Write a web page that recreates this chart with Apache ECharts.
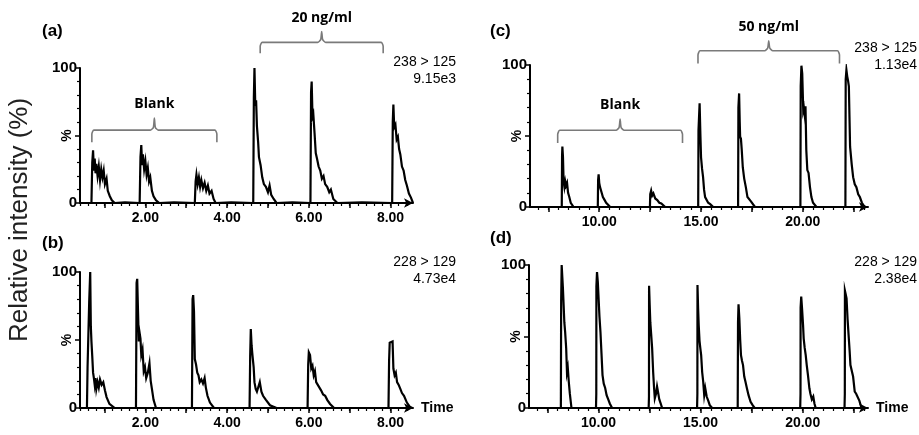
<!DOCTYPE html>
<html>
<head>
<meta charset="utf-8">
<script src="https://cdn.jsdelivr.net/npm/echarts@6/dist/echarts.min.js"></script>
<style>
html,body{margin:0;padding:0;background:#fff;}
#chart{width:919px;height:435px;}
</style>
</head>
<body>
<div id="chart"></div>
<script>
// ---------- DATA ----------
// tick labels
const xLabelsAB = [2, 4, 6, 8];
const xMajorTicksAB = [1, 2, 3, 4, 5, 6, 7, 8];
const xLabelsCD = [10, 15, 20];
const xMajorTicksCD = [7.5, 10, 12.5, 15, 17.5, 20, 22.5];
const yLabels = [0, 100];
const yMidLabel = [50];

// panel texts
const panelTags = ['(a)', '(b)', '(c)', '(d)'];
const transitions = ['238 > 125', '228 > 129', '238 > 125', '228 > 129'];
const intensities = ['9.15e3', '4.73e4', '1.13e4', '2.38e4'];

// bracket groups: [start, end] times and the text
const bracketsA = [{ text: 'Blank', span: [0.69, 3.75], level: [45, 54, 63] },
                   { text: '20 ng/ml', span: [4.81, 7.82], level: [111, 119, 127] }];
const bracketsC = [{ text: 'Blank', span: [7.96, 14.09], level: [45, 54, 62] },
                   { text: '50 ng/ml', span: [14.85, 21.8], level: [101, 110, 117] }];

// chromatogram traces [time (min), relative intensity (%)]
const traceA = [
  [0.4,0],[0.68,0],
  [0.69,0],[0.70,30],[0.72,39],[0.74,24],[0.76,33],[0.78,22],[0.80,29],[0.83,20],[0.86,27],[0.89,17],[0.92,25],[0.95,19],[0.98,24],[1.01,14],[1.05,18],[1.08,9],[1.13,5],[1.18,2],[1.25,0],
  [1.5,0.5],[1.86,0],
  [1.87,0],[1.88,34],[1.90,43],[1.92,28],[1.94,36],[1.97,25],[2.00,31],[2.03,21],[2.06,26],[2.09,16],[2.12,19],[2.16,9],[2.20,5],[2.26,2],[2.34,0],
  [2.7,0.5],[3.21,0],
  [3.22,0],[3.23,16],[3.25,21],[3.28,14],[3.31,19],[3.34,12],[3.37,17],[3.41,11],[3.45,15],[3.49,9],[3.53,13],[3.57,7],[3.62,9],[3.67,3],[3.72,0],
  [4.1,0.5],[4.64,0],
  [4.65,0],[4.655,78],[4.67,100],[4.69,72],[4.71,76],[4.73,57],[4.76,45],[4.78,34],[4.82,28],[4.86,19],[4.90,14],[4.95,12],[5.00,8],[5.04,13],[5.08,6],[5.14,3],[5.21,0],
  [5.6,0.5],[6.04,0],
  [6.05,0],[6.055,82],[6.07,90],[6.09,64],[6.11,66],[6.14,52],[6.17,37],[6.20,33],[6.24,27],[6.28,24],[6.32,18],[6.36,20],[6.40,14],[6.45,12],[6.50,8],[6.54,10],[6.60,3],[6.70,0],
  [7.3,0.5],[8.04,0],
  [8.05,0],[8.055,60],[8.07,73],[8.09,56],[8.12,58],[8.15,47],[8.18,49],[8.21,40],[8.24,36],[8.28,27],[8.32,24],[8.36,17],[8.40,13],[8.45,7],[8.50,4],[8.55,0]
];
const traceB = [
  [0.4,0],[0.57,0],
  [0.58,0],[0.585,30],[0.62,30],[0.625,78],[0.65,100],[0.665,60],[0.68,49],[0.70,38],[0.72,26],[0.74,22],[0.76,17],[0.78,22],[0.80,14],[0.83,19],[0.86,15],[0.89,21],[0.93,17],[0.97,19],[1.01,13],[1.05,8],[1.12,3],[1.25,0],
  [1.5,0],[1.77,0],
  [1.78,0],[1.785,92],[1.80,95],[1.82,71],[1.84,49],[1.86,55],[1.88,51],[1.90,39],[1.93,43],[1.96,27],[1.99,30],[2.02,22],[2.06,26],[2.10,33],[2.13,20],[2.16,14],[2.20,6],[2.26,0],
  [2.8,0],[3.14,0],
  [3.15,0],[3.155,80],[3.17,83],[3.19,71],[3.21,36],[3.24,32],[3.27,26],[3.30,24],[3.33,19],[3.37,21],[3.41,18],[3.45,22],[3.48,15],[3.52,9],[3.58,4],[3.68,0],
  [4.2,0],[4.55,0],
  [4.56,0],[4.565,38],[4.58,58],[4.60,46],[4.62,39],[4.65,30],[4.67,19],[4.70,14],[4.73,12],[4.77,16],[4.80,19],[4.84,12],[4.88,9],[4.95,6],[5.05,2],[5.21,0],
  [5.6,0],[5.97,0],
  [5.98,0],[5.985,32],[6.00,41],[6.03,39],[6.06,29],[6.09,31],[6.12,24],[6.15,27],[6.18,19],[6.22,17],[6.26,15],[6.30,13],[6.35,10],[6.40,9],[6.45,6],[6.52,3],[6.62,0],
  [7.4,0],[7.95,0],
  [7.96,0],[7.965,35],[7.98,48],[8.02,47],[8.05,49],[8.07,29],[8.10,24],[8.13,26],[8.16,19],[8.20,17],[8.24,14],[8.28,11],[8.33,9],[8.40,4],[8.47,1],[8.53,0]
];
const traceC = [
  [6.6,0],[8.16,0],
  [8.17,0],[8.175,36],[8.19,42.5],[8.22,35],[8.25,18],[8.29,14],[8.33,18],[8.37,15],[8.42,17],[8.47,10],[8.53,7],[8.60,3],[8.74,0],
  [9.3,0],[9.93,0],
  [9.94,0],[9.945,19],[9.97,23],[10.0,17],[10.04,14],[10.08,15],[10.12,10],[10.18,7],[10.26,5],[10.34,3],[10.54,0],
  [11.8,0],[12.49,0],
  [12.5,0],[12.505,9],[12.55,11.5],[12.6,8],[12.66,9.6],[12.75,6],[12.85,4.9],[12.95,3],[13.05,2.5],[13.24,0],
  [14,0],[14.86,0],
  [14.87,0],[14.875,54],[14.93,73],[14.97,50],[15.0,35],[15.05,27],[15.1,21],[15.15,12],[15.2,7],[15.28,6],[15.35,3],[15.45,2],[15.6,0],
  [16.2,0],[16.82,0],
  [16.83,0],[16.835,70],[16.87,80],[16.9,60],[16.92,49.5],[16.96,48],[17.0,40],[17.05,28],[17.12,20],[17.2,14],[17.28,7],[17.36,6],[17.45,4],[17.65,0],
  [19,0],[19.88,0],
  [19.89,0],[19.895,85],[19.93,99.5],[19.97,94],[20.02,68],[20.05,70],[20.09,65],[20.13,71],[20.17,40],[20.22,26],[20.28,24],[20.35,14],[20.42,7],[20.5,3],[20.67,0],
  [21.5,0],[22.09,0],
  [22.1,0],[22.105,90],[22.14,96.5],[22.18,92],[22.22,89],[22.26,85],[22.32,42.5],[22.4,30],[22.47,21],[22.55,16],[22.63,14],[22.72,9],[22.8,7],[22.9,3],[23.04,0],
  [23.2,0]
];
const traceD = [
  [6.6,0],[8.16,0],
  [8.17,0],[8.175,75],[8.2,100],[8.23,92],[8.26,84],[8.29,74],[8.33,60],[8.37,53],[8.42,42],[8.46,25],[8.5,28],[8.55,18],[8.6,10],[8.68,0],
  [9.3,0],[9.88,0],
  [9.89,0],[9.895,10],[9.9,85],[9.93,95],[9.97,88],[10.0,79],[10.05,64],[10.1,53],[10.15,38],[10.2,23],[10.26,17],[10.33,14],[10.4,9],[10.48,6],[10.56,3],[10.67,0],
  [11.8,0],[12.46,0],
  [12.47,0],[12.475,8],[12.48,85.5],[12.51,72],[12.54,60],[12.58,52],[12.63,41.7],[12.68,25],[12.72,15],[12.76,6.8],[12.82,10],[12.87,15],[12.92,11],[12.98,6],[13.05,3],[13.12,0],
  [14,0],[14.83,0],
  [14.84,0],[14.845,10],[14.85,86],[14.88,70],[14.91,58],[14.95,47],[14.99,41.7],[15.03,37],[15.08,25],[15.13,18.4],[15.18,9],[15.23,13.8],[15.3,8],[15.38,5],[15.45,2],[15.57,0],
  [16.2,0],[16.82,0],
  [16.83,0],[16.835,60],[16.86,72.5],[16.9,62.7],[16.94,48],[16.98,37],[17.03,33],[17.08,30],[17.14,22],[17.2,18.4],[17.27,13.8],[17.35,9],[17.45,4.4],[17.55,2],[17.65,0],
  [19,0],[19.88,0],
  [19.89,0],[19.895,10],[19.9,70],[19.93,78],[19.97,69.7],[20.02,58],[20.05,48.7],[20.1,42],[20.15,37],[20.2,30],[20.26,23],[20.33,13.8],[20.38,10],[20.45,6],[20.52,8],[20.58,3],[20.64,0],
  [21.5,0],[22.05,0],
  [22.06,0],[22.065,10],[22.07,82],[22.1,80],[22.15,76.7],[22.2,62],[22.25,51],[22.3,40],[22.34,30],[22.4,31],[22.47,22],[22.55,11.4],[22.62,10],[22.7,10.3],[22.78,5],[22.88,0],
  [23.2,0]
];

// ---------- BUILD ----------
const FONT = 'Liberation Sans';
const chart = echarts.init(document.getElementById('chart'), null, { renderer: 'canvas' });

const panels = [
  { grid: { left: 80, top: 68, width: 333, height: 135 }, xr: [0.4, 8.55], labels: xLabelsAB, major: xMajorTicksAB, minorStep: 0.2, trace: traceA, time: false, brackets: bracketsA },
  { grid: { left: 80, top: 272, width: 333, height: 136 }, xr: [0.4, 8.55], labels: xLabelsAB, major: xMajorTicksAB, minorStep: 0.2, trace: traceB, time: true, brackets: [] },
  { grid: { left: 530, top: 65, width: 338, height: 142 }, xr: [6.6, 23.2], labels: xLabelsCD, major: xMajorTicksCD, minorStep: 0.5, trace: traceC, time: false, brackets: bracketsC },
  { grid: { left: 529, top: 265, width: 339, height: 143 }, xr: [6.6, 23.2], labels: xLabelsCD, major: xMajorTicksCD, minorStep: 0.5, trace: traceD, time: true, brackets: [] }
];

function minorTicks(min, max, step) {
  const out = [];
  const start = Math.ceil(min / step - 1e-9) * step;
  for (let v = start; v <= max + 1e-9; v += step) out.push(+v.toFixed(3));
  return out;
}
const yMinor = [10, 20, 30, 40, 60, 70, 80, 90];

const grids = [], xAxes = [], yAxes = [], series = [];
panels.forEach((p, i) => {
  grids.push(Object.assign({ containLabel: false }, p.grid));
  xAxes.push({
    type: 'value', gridIndex: i, min: p.xr[0], max: p.xr[1], position: 'bottom',
    axisLine: { show: true, onZero: false, lineStyle: { color: '#000', width: 2 }, symbol: ['none', 'arrow'], symbolSize: [7, 9] },
    axisTick: { show: true, customValues: p.major, length: 5, lineStyle: { color: '#000', width: 1.5 } },
    axisLabel: { show: true, customValues: p.labels, formatter: v => v.toFixed(2), color: '#000', fontFamily: FONT, fontWeight: 'bold', fontSize: 14, margin: 8 },
    splitLine: { show: false },
    name: p.time ? 'Time' : '', nameLocation: 'end', nameGap: 8,
    nameTextStyle: { color: '#000', fontFamily: FONT, fontWeight: 'bold', fontSize: 14, verticalAlign: 'middle' }
  });
  xAxes.push({
    type: 'value', gridIndex: i, min: p.xr[0], max: p.xr[1], position: 'bottom',
    axisLine: { show: false, onZero: false },
    axisTick: { show: true, customValues: minorTicks(p.xr[0], p.xr[1] - 0.1, p.minorStep), length: 3, lineStyle: { color: '#000', width: 1.2 } },
    axisLabel: { show: false }, splitLine: { show: false }
  });
  yAxes.push({
    type: 'value', gridIndex: i, min: 0, max: 100, interval: 50, position: 'left',
    axisLine: { show: true, onZero: false, lineStyle: { color: '#000', width: 2 } },
    axisTick: { show: true, customValues: [0, 50, 100], length: 5, lineStyle: { color: '#000', width: 1.5 } },
    axisLabel: { show: true, customValues: yLabels, color: '#000', fontFamily: FONT, fontWeight: 'bold', fontSize: 15, margin: 3 },
    splitLine: { show: false }
  });
  yAxes.push({
    type: 'value', gridIndex: i, min: 0, max: 100, position: 'left',
    axisLine: { show: false, onZero: false },
    axisTick: { show: true, customValues: yMinor, length: 3, lineStyle: { color: '#000', width: 1.2 } },
    axisLabel: { show: true, customValues: yMidLabel, rotate: 90, formatter: () => '%', color: '#000', fontFamily: FONT, fontWeight: 'bold', fontSize: 14, margin: 6 },
    splitLine: { show: false }
  });
  series.push({
    type: 'line', xAxisIndex: 2 * i, yAxisIndex: 2 * i, data: p.trace,
    showSymbol: false, symbol: 'none', animation: false, silent: true,
    lineStyle: { color: '#000', width: 2.2, join: 'miter' }
  });
  p.brackets.forEach(b => {
    const [x0, x1] = b.span, [yb, yh, yt] = b.level, xm = (x0 + x1) / 2;
    const d = (p.xr[1] - p.xr[0]) * 0.006;
    const pts = [[x0, yb], [x0, yh - 3], [x0 + d, yh], [xm - 2 * d, yh], [xm - 0.5 * d, yh + 2],
      [xm, yt], [xm + 0.5 * d, yh + 2], [xm + 2 * d, yh], [x1 - d, yh], [x1, yh - 3], [x1, yb]];
    series.push({
      type: 'line', xAxisIndex: 2 * i, yAxisIndex: 2 * i, data: pts, clip: false,
      showSymbol: false, symbol: 'none', animation: false, silent: true, smooth: 0.2,
      lineStyle: { color: '#7a7a7a', width: 1.6 }
    });
    series.push({
      type: 'scatter', xAxisIndex: 2 * i, yAxisIndex: 2 * i, clip: false, animation: false, silent: true,
      symbolSize: 0, itemStyle: { color: '#fff', opacity: 1 },
      data: [[xm, yt]],
      label: { show: true, position: 'top', distance: 7, formatter: b.text, color: '#000', opacity: 1, fontFamily: 'Open Sans', fontWeight: 'bold', fontSize: 14 }
    });
  });
});

const tagPos = [[42, 33], [42, 245], [490, 33], [490, 240]];
const annPos = [[456, 62], [456, 262], [917, 48], [917, 262]];
const graphics = [];
panelTags.forEach((t, i) => {
  graphics.push({ type: 'text', left: tagPos[i][0], top: tagPos[i][1] - 10,
    style: { text: t, fill: '#000', font: 'bold 17px "' + FONT + '"' } });
  graphics.push({ type: 'text', x: annPos[i][0], y: annPos[i][1] - 8,
    style: { text: transitions[i] + '\n' + intensities[i], fill: '#000', font: '14px "' + FONT + '"', align: 'right', verticalAlign: 'top', lineHeight: 17 } });
});
graphics.push({ type: 'text', x: 20, y: 220, rotation: Math.PI / 2,
  style: { text: 'Relative intensity (%)', fill: '#222', font: '26px "' + FONT + '"', align: 'center', verticalAlign: 'middle' } });

chart.setOption({
  backgroundColor: '#fff',
  animation: false,
  grid: grids, xAxis: xAxes, yAxis: yAxes, series: series, graphic: graphics
});
</script>
</body>
</html>
